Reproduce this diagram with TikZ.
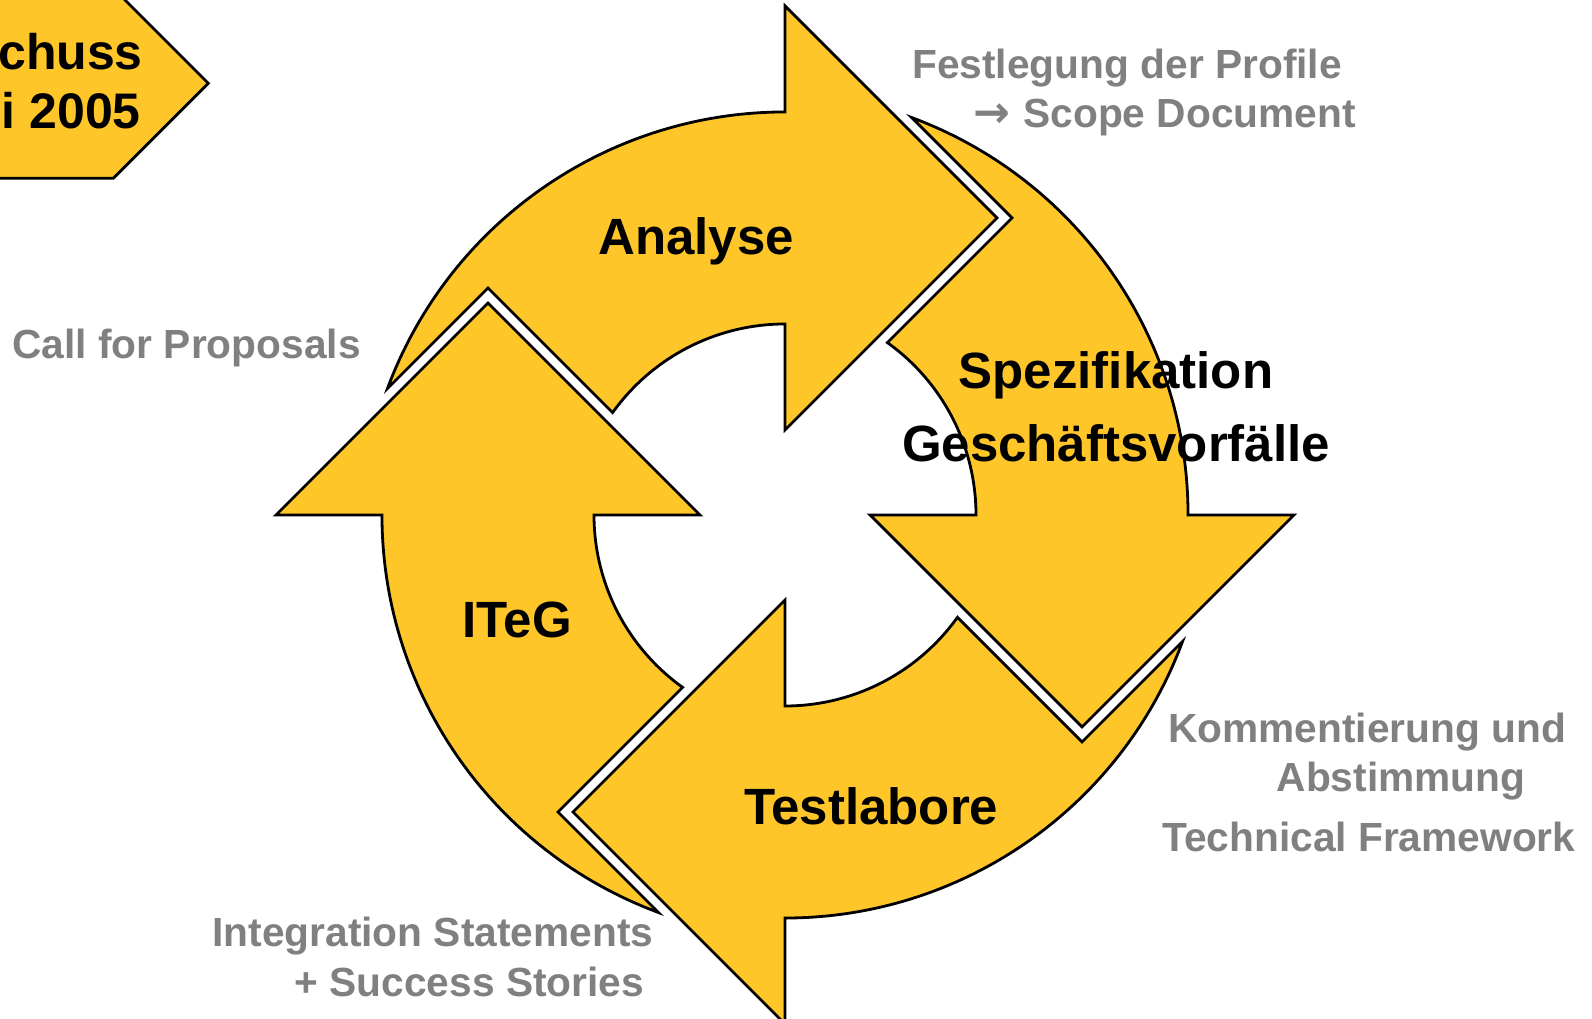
\documentclass[tikz,border=0pt]{standalone}
\usepackage{fontspec}
\setmainfont{Liberation Sans}
\newfontfamily\arrowfont{DejaVu Sans}
\usepackage{tikz}
\definecolor{cycleyellow}{RGB}{255,198,41}
\definecolor{notegray}{RGB}{128,128,128}
\tikzset{>=latex}
\tikzset{cyclearrow/.style={fill=cycleyellow,draw=black,line width=2.8pt}}

\begin{document}
\begin{tikzpicture}[x=1pt,y=1pt]
\useasboundingbox (0,0) rectangle (1592,1019);
\clip (0,0) rectangle (1592,1019);

% banner top left
\path[cyclearrow] (-10,840.7) -- (113.3,840.7) -- (208.3,935.7) -- (113.3,1030.7) -- (-10,1030.7) -- cycle;

% Analyse
\begin{scope}[shift={(785,504)},rotate=0]
\path[cyclearrow] (-397.53,126.47) arc[start angle=159.65,end angle=90,radius=424pt] -- (0,509) -- (212,297) -- (0,85) -- (0,191) arc[start angle=90,end angle=144.41,radius=212pt] -- (-297,227) -- cycle;
\end{scope}
% Spezifikation
\begin{scope}[shift={(785,504)},rotate=-90]
\path[cyclearrow] (-397.53,126.47) arc[start angle=159.65,end angle=90,radius=424pt] -- (0,509) -- (212,297) -- (0,85) -- (0,191) arc[start angle=90,end angle=144.41,radius=212pt] -- (-297,227) -- cycle;
\end{scope}
% Testlabore
\begin{scope}[shift={(785,504)},rotate=-180]
\path[cyclearrow] (-397.53,126.47) arc[start angle=159.65,end angle=90,radius=424pt] -- (0,509) -- (212,297) -- (0,85) -- (0,191) arc[start angle=90,end angle=144.41,radius=212pt] -- (-297,227) -- cycle;
\end{scope}
% ITeG
\begin{scope}[shift={(785,504)},rotate=90]
\path[cyclearrow] (-397.53,126.47) arc[start angle=159.65,end angle=90,radius=424pt] -- (0,509) -- (212,297) -- (0,85) -- (0,191) arc[start angle=90,end angle=144.41,radius=212pt] -- (-297,227) -- cycle;
\end{scope}

\begin{scope}[every node/.style={inner sep=0pt,font=\fontsize{51}{61}\selectfont\bfseries}]
\node[anchor=base west] (An) at (598,764) {Analyse};
\node[anchor=base] (Sp1) at (1116,630.7) {Spezifikation};
\node[anchor=base] (Sp2) at (1116,557.3) {Geschäftsvorfälle};
\node[anchor=base east] (Te) at (998.5,194) {Testlabore};
\node[anchor=base west] (IT) at (462,381.5) {ITeG};
\end{scope}

\begin{scope}[every node/.style={inner sep=0pt,font=\fontsize{50}{60}\selectfont\bfseries}]
\node[anchor=base east] (B1) at (143,949) {chuss};
\node[anchor=base east] (B2) at (141,890.7) {i 2005};
\end{scope}

\begin{scope}[every node/.style={inner sep=0pt,text=notegray,font=\fontsize{40.7}{49}\selectfont\bfseries}]
\node[anchor=base west] (N1) at (912,940.5) {Festlegung der Profile};
\node[anchor=base west] (N2) at (973,891) {{\arrowfont\fontsize{44}{49}\selectfont →}\hspace{2pt} Scope Document};
\node[anchor=base west] (N3) at (12.2,660) {Call for Proposals};
\node[anchor=base west] (N4) at (1168,276.3) {Kommentierung und};
\node[anchor=base west] (N5) at (1276.5,227.3) {Abstimmung};
\node[anchor=base west] (N6) at (1162,167.3) {Technical Framework};
\node[anchor=base west] (N7) at (212.2,72) {Integration Statements};
\node[anchor=base west] (N8) at (294.4,22.3) {+ Success Stories};
\end{scope}
\end{tikzpicture}
\end{document}
